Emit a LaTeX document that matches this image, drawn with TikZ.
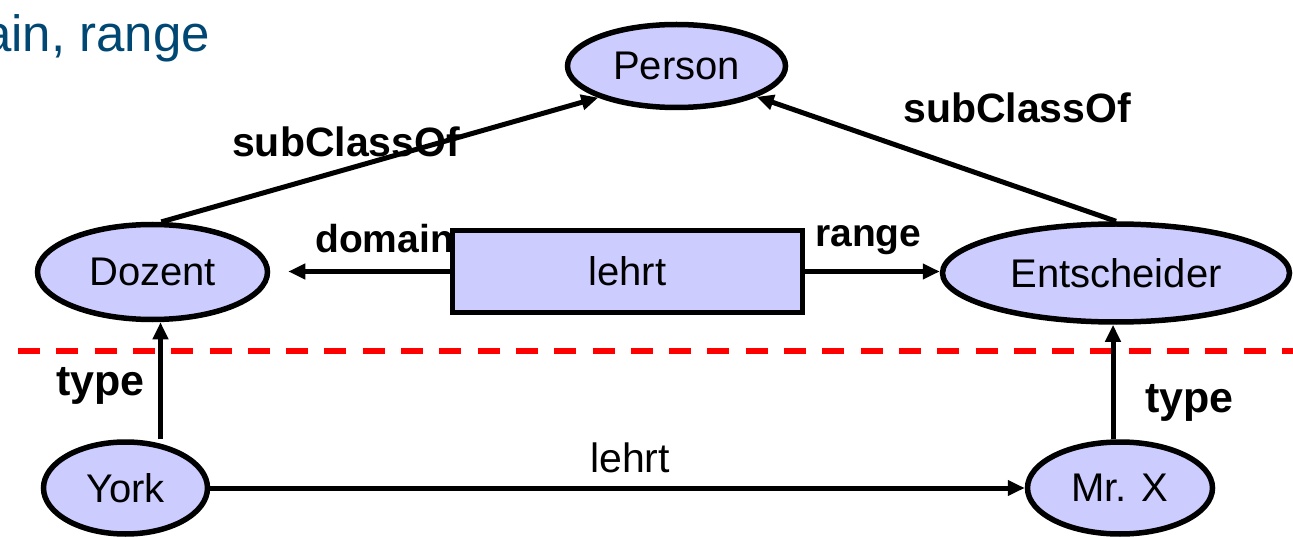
\documentclass[tikz,border=0pt]{standalone}
\usepackage{fontspec}
\setmainfont{Liberation Sans}
\usetikzlibrary{shapes.geometric,arrows.meta,calc}
\definecolor{nodefill}{RGB}{204,204,255}
\definecolor{titleblue}{RGB}{0,72,115}
\begin{document}
\begin{tikzpicture}[x=1pt,y=-1pt,
  cls/.style={ellipse,draw=black,line width=5.5pt,fill=nodefill,inner sep=0pt,font=\fontsize{40}{48}\selectfont},
  prop/.style={rectangle,draw=black,line width=5.5pt,fill=nodefill,inner sep=0pt,minimum width=350pt,minimum height=82pt,font=\fontsize{40}{48}\selectfont},
  arr/.style={line width=5pt,-{Triangle[length=17pt,width=15pt]}},
  lbl/.style={font=\bfseries\fontsize{40}{48}\selectfont,anchor=base west,inner sep=0pt},
  plain/.style={font=\fontsize{41}{48}\selectfont,anchor=base west,inner sep=0pt},
  sep/.style={draw=red,line width=5.5pt,dash pattern=on 22pt off 16.3pt}]
\useasboundingbox (0,0) rectangle (1293,537);

% title (cut off at the left edge, as in the reference)
\node[anchor=base west,inner sep=0pt,text=titleblue,font=\fontsize{51}{60}\selectfont] (title) at (-17,52) {ain, range};

% separator
\coordinate (sl) at (18,351);
\coordinate (sr) at (1293,351);
\draw[sep] (sl) -- (sr);

% labels partly covered by the shapes
\node[lbl,font=\bfseries\fontsize{39}{46}\selectfont] (ldomain) at (315,253) {domain};
\node[lbl,font=\bfseries\fontsize{39}{46}\selectfont] (lrange) at (815,247) {range};

% nodes
\node[cls,minimum width=218pt,minimum height=83pt] (person) at (676.5,66) {Person};
\node[cls,minimum width=230pt,minimum height=95pt] (doz) at (152.5,272) {Dozent};
\node[cls,minimum width=347pt,minimum height=98pt] (ent) at (1116,273) {Entscheider};
\node[prop] (lehrt) at (627.5,271.5) {lehrt};
\node[cls,minimum width=164pt,minimum height=92pt] (york) at (125.5,488) {York};
\node[cls,minimum width=185pt,minimum height=92pt] (mrx) at (1120,488) {Mr. X};

% connectors
\draw[arr] (doz.80) -- (person.202);
\draw[arr] (ent.north) -- (person.339);
\draw[arr,shorten >=18pt] (lehrt.west) -- (lehrt.west -| doz.east);
\draw[arr] (lehrt.east) -- (lehrt.east -| ent.west);
\draw[arr] ([xshift=35pt]york.north) -- ([xshift=35pt]york.north |- doz.south);
\draw[arr] ([xshift=-7pt]mrx.north) -- ([xshift=-7pt]mrx.north |- ent.south);
\draw[arr] (york.east) -- (york.east -| mrx.west);

% edge labels
\node[lbl,font=\bfseries\fontsize{41}{48}\selectfont] (lsub1) at (232,157) {subClassOf};
\node[lbl,font=\bfseries\fontsize{41}{48}\selectfont] (lsub2) at (903,123) {subClassOf};
\node[lbl,font=\bfseries\fontsize{43}{50}\selectfont] (ltype1) at (56,395) {type};
\node[lbl,font=\bfseries\fontsize{43}{50}\selectfont] (ltype2) at (1145,412) {type};
\node[plain] (llehrt) at (590,472) {lehrt};
\end{tikzpicture}
\end{document}
